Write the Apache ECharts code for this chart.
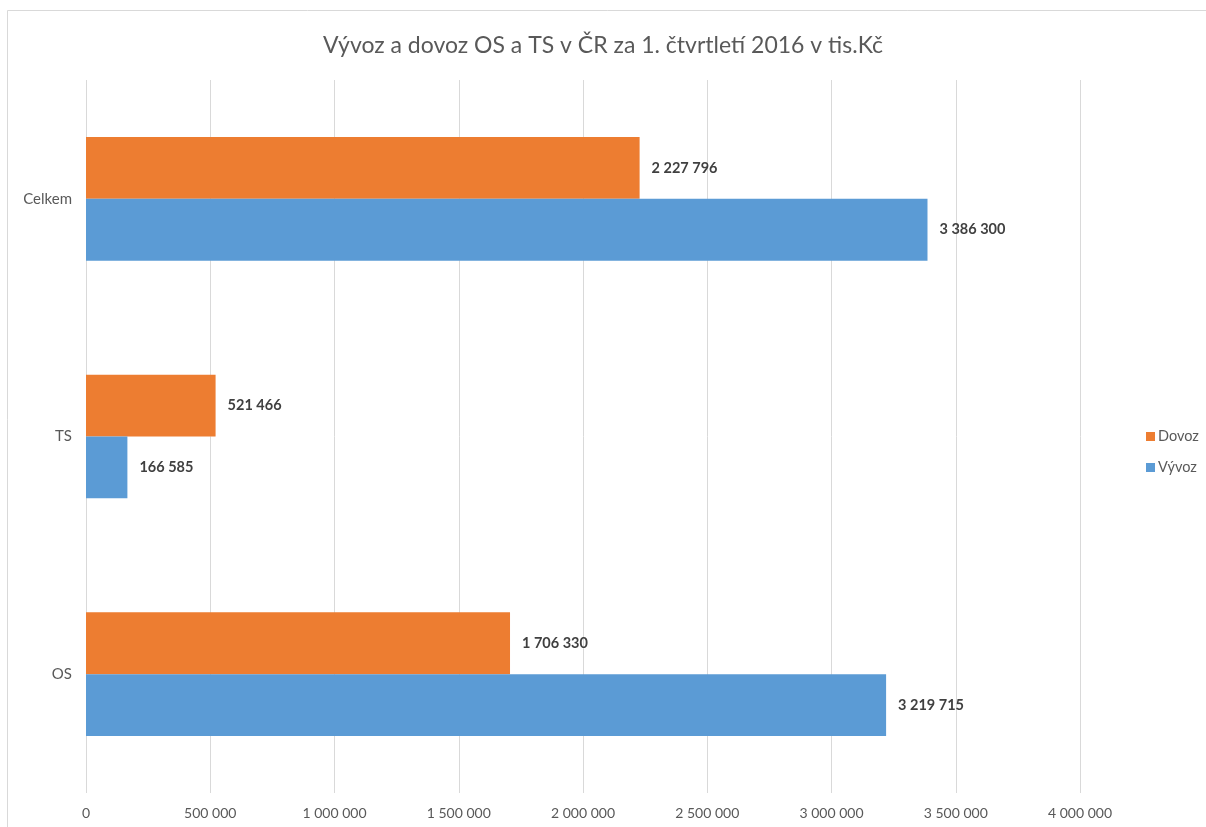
<!DOCTYPE html>
<html>
<head>
<meta charset="utf-8">
<style>
  html, body { margin: 0; padding: 0; background: #fff; }
  #chart { width: 1206px; height: 827px; }
</style>
<script src="https://cdn.jsdelivr.net/npm/echarts@6/dist/echarts.min.js"></script>
</head>
<body>
<div id="chart"></div>
<script>
const categories = ['OS', 'TS', 'Celkem']
const vyvoz = [3219715, 166585, 3386300]
const dovoz = [1706330, 521466, 2227796]
const xTicks = { min: 0, max: 4000000, interval: 500000 }

const font = 'Lato, "Open Sans", sans-serif'

function fmt(v) {
  return String(v).replace(/\B(?=(\d{3})+(?!\d))/g, ' ')
}

const labelStyle = {
  show: true,
  position: 'right',
  distance: 12,
  color: '#404040',
  fontWeight: 'bold',
  fontSize: 14.5,
  fontFamily: font,
  formatter: p => fmt(p.value)
}

const chart = echarts.init(document.getElementById('chart'))
chart.setOption({
  backgroundColor: '#fff',
  animation: false,
  title: {
    text: 'Vývoz a dovoz OS a TS v ČR za 1. čtvrtletí 2016 v tis.Kč',
    left: 'center',
    top: 29,
    textStyle: {
      fontFamily: font,
      fontWeight: 'normal',
      fontSize: 23,
      color: '#595959'
    }
  },
  graphic: [{
    type: 'rect',
    shape: { x: 7.5, y: 10.5, width: 1220, height: 840 },
    style: { fill: 'none', stroke: '#d9d9d9', lineWidth: 1 },
    silent: true
  }],
  legend: {
    data: ['Dovoz', 'Vývoz'],
    orient: 'vertical',
    left: 1141,
    top: 424,
    icon: 'rect',
    itemWidth: 9,
    itemHeight: 9,
    itemGap: 16,
    itemStyle: { borderWidth: 0 },
    textStyle: {
      fontFamily: font,
      fontSize: 14.5,
      color: '#595959',
      padding: [0, 0, 0, -2]
    }
  },
  grid: {
    left: 86,
    right: 126,
    top: 80,
    bottom: 34
  },
  xAxis: {
    type: 'value',
    min: xTicks.min,
    max: xTicks.max,
    interval: xTicks.interval,
    axisLine: { show: false },
    axisTick: { show: false },
    axisLabel: {
      margin: 13,
      fontFamily: font,
      fontSize: 14,
      color: '#595959',
      formatter: v => fmt(v)
    },
    splitLine: { lineStyle: { color: '#d9d9d9', width: 1 } }
  },
  yAxis: {
    type: 'category',
    data: categories,
    axisLine: { show: false },
    axisTick: { show: false },
    axisLabel: {
      margin: 14,
      fontFamily: font,
      fontSize: 15,
      color: '#595959'
    }
  },
  series: [{
    name: 'Dovoz',
    type: 'bar',
    data: dovoz,
    barGap: '0%',
    barCategoryGap: '48%',
    itemStyle: { color: '#ED7D31' },
    label: labelStyle
  }, {
    name: 'Vývoz',
    type: 'bar',
    data: vyvoz,
    barGap: '0%',
    barCategoryGap: '48%',
    itemStyle: { color: '#5B9BD5' },
    label: labelStyle
  }]
})
</script>
</body>
</html>
